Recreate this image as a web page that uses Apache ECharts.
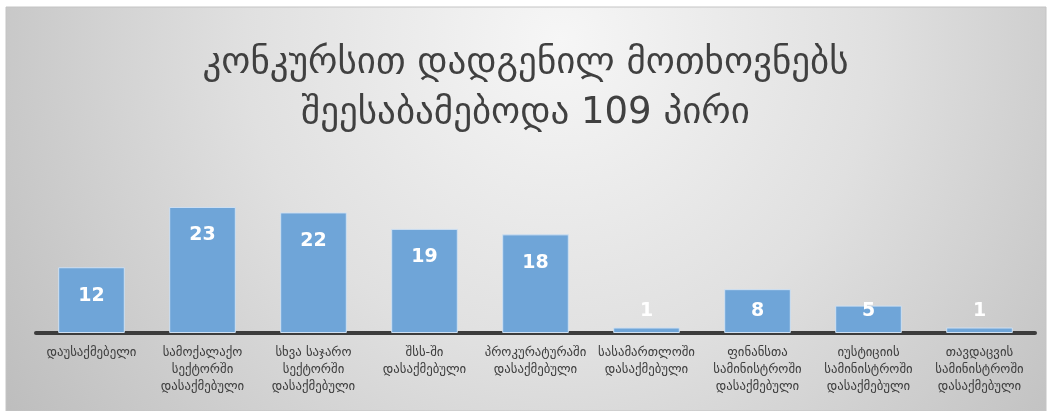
<!DOCTYPE html>
<html><head><meta charset="utf-8">
<script src="https://cdn.jsdelivr.net/npm/echarts@6/dist/echarts.min.js"></script>
<style>html,body{margin:0;padding:0;background:#fff}#c{width:1051px;height:411px}</style>
</head><body><div id="c"></div>
<script>
const categories = [
  'დაუსაქმებელი',
  'სამოქალაქო\nსექტორში\nდასაქმებული',
  'სხვა საჯარო\nსექტორში\nდასაქმებული',
  'შსს-ში\nდასაქმებული',
  'პროკურატურაში\nდასაქმებული',
  'სასამართლოში\nდასაქმებული',
  'ფინანსთა\nსამინისტროში\nდასაქმებული',
  'იუსტიციის\nსამინისტროში\nდასაქმებული',
  'თავდაცვის\nსამინისტროში\nდასაქმებული'
];
const values = [12, 23, 22, 19, 18, 1, 8, 5, 1];
const titleLines = ['კონკურსით დადგენილ მოთხოვნებს', 'შეესაბამებოდა 109 პირი'];

const FONT = 'DejaVu Sans';
const chart = echarts.init(document.getElementById('c'));
const option = {
  animation: false,
  graphic: [{
    type: 'rect', z: -10, silent: true,
    shape: { x: 6, y: 7, width: 1040, height: 404 },
    style: {
      fill: { type: 'radial', x: 560, y: 40, r: 700, global: true,
        colorStops: [{ offset: 0, color: '#f6f6f6' }, { offset: 0.45, color: '#e0e0e0' }, { offset: 1, color: '#bababa' }] },
      stroke: '#c4c4c4', lineWidth: 1
    }
  }],
  title: {
    text: titleLines.join('\n'),
    left: 'center', top: 33,
    textStyle: { fontFamily: FONT, fontSize: 37, fontWeight: 'normal', color: '#404040', lineHeight: 50 }
  },
  grid: { left: 36, right: 16, top: 196, bottom: 78, containLabel: false },
  xAxis: {
    type: 'category', data: categories,
    axisLine: { lineStyle: { color: '#3c3c3c', width: 4 } },
    axisTick: { show: false },
    axisLabel: { interval: 0, color: '#404040', fontFamily: FONT, fontSize: 12.8, lineHeight: 17, margin: 11 }
  },
  yAxis: { type: 'value', min: 0, max: 25, show: false, splitLine: { show: false } },
  series: [{
    type: 'bar', barWidth: '60%',
    data: values.map(v => ({ value: v })),
    itemStyle: { color: '#6fa5d8', borderColor: '#cfe0f2', borderWidth: 1 },
    label: { show: true, position: 'insideTop', distance: 19, color: '#ffffff', fontFamily: FONT, fontWeight: 'bold', fontSize: 19 }
  }]
};
chart.setOption(option);
// place labels of short bars at a common level, as in the reference
const labelTopLimit = 302;
const newData = values.map((v, i) => {
  const topPx = chart.convertToPixel({ gridIndex: 0 }, [i, v])[1];
  const d = Math.min(19, labelTopLimit - topPx);
  return { value: v, label: { distance: d } };
});
chart.setOption({ series: [{ data: newData }] });
</script></body></html>
